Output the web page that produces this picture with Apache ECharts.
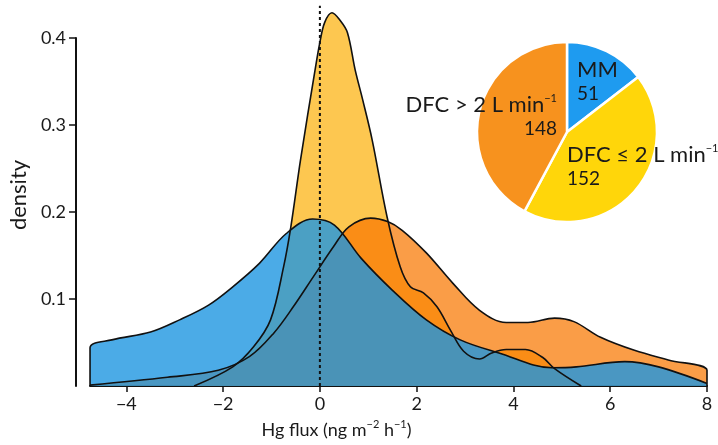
<!DOCTYPE html>
<html>
<head>
<meta charset="utf-8">
<script src="https://cdn.jsdelivr.net/npm/echarts@6/dist/echarts.min.js"></script>
<style>
  html, body { margin: 0; padding: 0; background: #fff; }
  #chart { width: 718px; height: 445px; }
</style>
</head>
<body>
<div id="chart"></div>
<script>
// density curves: [Hg flux, density]
const dfcLow = [
  [-2.6, 0], [-1.8, 0.022], [-1.37, 0.045], [-1.02, 0.076], [-0.75, 0.137],
  [-0.6, 0.183], [-0.4, 0.26], [-0.1, 0.363], [0, 0.395], [0.1, 0.418],
  [0.25, 0.429], [0.42, 0.42], [0.57, 0.406], [0.73, 0.363], [0.88, 0.33],
  [1.08, 0.283], [1.39, 0.194], [1.66, 0.137], [1.87, 0.114], [2.14, 0.107],
  [2.42, 0.091], [2.7, 0.064], [2.97, 0.04], [3.3, 0.031], [3.55, 0.038],
  [3.85, 0.042], [4.25, 0.042], [4.6, 0.033], [4.85, 0.02], [5.4, 0]
];
const dfcHigh = [
  [-4.75, 0.001], [-3.15, 0.01], [-2.1, 0.018], [-1.45, 0.034], [-0.95, 0.061],
  [-0.55, 0.091], [-0.13, 0.126], [0.28, 0.16], [0.6, 0.183], [1.05, 0.193],
  [1.4, 0.189], [1.7, 0.179], [2.2, 0.153], [2.75, 0.118], [3.3, 0.087],
  [3.85, 0.073], [4.3, 0.073], [4.85, 0.078], [5.25, 0.074], [5.8, 0.056],
  [6.5, 0.041], [7.2, 0.03], [8, 0.018], [8, 0]
];
const mm = [
  [-4.75, 0], [-4.75, 0.044], [-4.3, 0.053], [-3.5, 0.062], [-2.9, 0.076],
  [-2.3, 0.093], [-1.8, 0.114], [-1.25, 0.141], [-0.7, 0.175], [-0.15, 0.192],
  [0.3, 0.185], [0.85, 0.147], [1.5, 0.11], [2.2, 0.076], [2.9, 0.053],
  [3.7, 0.038], [4.8, 0.021], [5.3, 0.022], [6.3, 0.028], [7.0, 0.022], [8, 0.003]
];
const zeroLine = [[0, 0], [0, 0.437]];

const xTicks = [-4, -2, 0, 2, 4, 6, 8];
const yTicks = [0.1, 0.2, 0.3, 0.4];

// inset pie: number of measurements
const pieNames = ['MM', 'DFC ≤ 2 L min⁻¹', 'DFC > 2 L min⁻¹'];
const pieCounts = [51, 152, 148];
const pieColors = ['#1e9bf0', '#ffd60a', '#f7921e'];
const pieLabelPos = [[577, 58, 'left'], [567, 143, 'left'], [557, 93, 'right']];

const FONT = 'Lato, "Open Sans", sans-serif';
const chart = echarts.init(document.getElementById('chart'));

function densitySeries(name, data, fill, opacity) {
  return {
    name: name,
    type: 'line',
    data: data,
    smooth: 0.35,
    showSymbol: false,
    clip: false,
    lineStyle: { color: '#111', width: 1.6 },
    areaStyle: { color: fill, opacity: opacity },
    itemStyle: { color: fill }
  };
}

chart.setOption({
  animation: false,
  textStyle: { fontFamily: FONT },
  grid: { left: 89, right: 11, top: 38, bottom: 59 },
  xAxis: {
    type: 'value',
    min: -4.75,
    max: 8,
    splitLine: { show: false },
    axisLine: { onZero: false, lineStyle: { color: '#111', width: 2 } },
    axisTick: { customValues: xTicks, length: 6, lineStyle: { color: '#111', width: 1.5 } },
    axisLabel: {
      customValues: xTicks,
      margin: 9,
      fontSize: 18,
      color: '#1a1a1a',
      fontFamily: FONT,
      formatter: v => String(v).replace('-', '−')
    },
    name: '{a|Hg flux (ng m}{s|−2}{a| h}{s|−1}{a|)}',
    nameLocation: 'middle',
    nameGap: 33,
    nameTextStyle: {
      padding: [0, 124, 0, 0],
      rich: {
        a: { fontSize: 18, lineHeight: 22, color: '#1a1a1a', fontFamily: FONT },
        s: { fontSize: 11, lineHeight: 13, verticalAlign: 'top', color: '#1a1a1a', fontFamily: FONT }
      }
    }
  },
  yAxis: {
    type: 'value',
    min: 0,
    max: 0.4,
    offset: 14,
    splitLine: { show: false },
    axisLine: { show: true, onZero: false, lineStyle: { color: '#111', width: 2 } },
    axisTick: { show: true, customValues: yTicks, length: 7, lineStyle: { color: '#111', width: 1.5 } },
    axisLabel: {
      customValues: yTicks,
      margin: 10,
      fontSize: 18,
      color: '#1a1a1a',
      fontFamily: FONT,
      formatter: v => v.toFixed(1)
    },
    name: 'density',
    nameLocation: 'middle',
    nameRotate: 90,
    nameGap: 44,
    nameTextStyle: { fontSize: 22, color: '#1a1a1a', fontFamily: FONT, padding: [0, 0, 0, 34] }
  },
  series: [
    densitySeries('DFC ≤ 2 L min⁻¹', dfcLow, '#fcb415', 0.75),
    densitySeries('DFC > 2 L min⁻¹', dfcHigh, '#f87700', 0.72),
    densitySeries('MM', mm, '#1e96e1', 0.8),
    {
      name: 'zero',
      type: 'line',
      data: zeroLine,
      clip: false,
      showSymbol: false,
      lineStyle: { color: '#111', width: 2, type: [3, 3] },
      z: 5
    },
    {
      type: 'pie',
      center: [567, 132],
      radius: 90,
      startAngle: 90,
      clockwise: true,
      data: pieNames.map((n, i) => ({ name: n, value: pieCounts[i], itemStyle: { color: pieColors[i] } })),
      itemStyle: { borderColor: '#fff', borderWidth: 2.5 },
      labelLine: { show: false },
      label: {
        position: 'inside',
        color: '#1a1a1a',
        fontFamily: FONT,
        formatter: p => {
          const head = p.dataIndex === 0 ? '{big|MM}'
            : '{big|' + (p.dataIndex === 1 ? 'DFC ≤ 2 L min' : 'DFC > 2 L min') + '}{sup|−1}';
          return head + '\n{num|' + p.value + '}';
        },
        rich: {
          big: { fontSize: 22, lineHeight: 24, color: '#1a1a1a', fontFamily: FONT },
          sup: { fontSize: 11, lineHeight: 14, verticalAlign: 'top', color: '#1a1a1a', fontFamily: FONT },
          num: { fontSize: 19, lineHeight: 24, color: '#1a1a1a', fontFamily: FONT }
        }
      },
      labelLayout: p => {
        const pos = pieLabelPos[p.dataIndex];
        return { x: pos[0], y: pos[1], align: pos[2], verticalAlign: 'top' };
      },
      emphasis: { disabled: true }
    }
  ]
});
</script>
</body>
</html>
